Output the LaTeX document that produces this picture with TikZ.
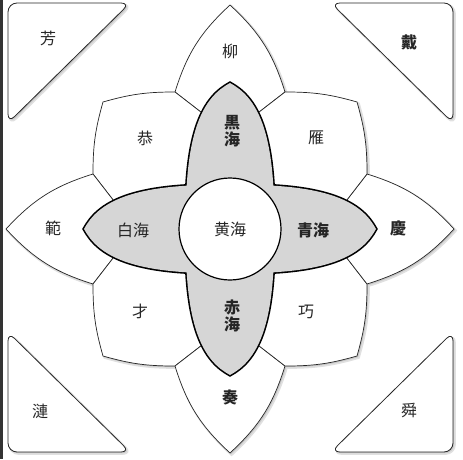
\documentclass[tikz,border=0pt]{standalone}
\usepackage{fontspec}
\newfontfamily\cjk{Noto Sans CJK JP}
\usetikzlibrary{calc}
\newcommand\allpetals[1]{%
  \foreach \r in {0,90,180,270} {
    \begin{scope}[rotate=\r]
      \path[#1] (0,224) to[bend right=15] (-55,137)
        -- ($(-55,137)!1.2!(-29.3,117.1)$) -- ($(55,137)!1.2!(29.3,117.1)$)
        -- (55,137) to[bend right=15] (0,224) -- cycle;
      \path[#1] (-127,127) to[bend left=8] (-55,137)
        -- ($(-55,137)!1.2!(-29.3,117.1)$) -- (-28,28)
        -- ($(-137,55)!1.2!(-117.1,29.3)$) -- (-137,55)
        to[bend left=8] (-127,127) -- cycle;
    \end{scope}
  }}
\newcommand\allcorners[1]{%
  \path[#1] (8,456) -- (130,456) -- (8,336) -- cycle;
  \path[#1] (453,456) -- (331,456) -- (453,336) -- cycle;
  \path[#1] (8,7) -- (8,127) -- (130,7) -- cycle;
  \path[#1] (453,7) -- (453,127) -- (331,7) -- cycle;}
\begin{document}
\begin{tikzpicture}[x=1pt,y=1pt,
  petal/.style={fill=white,draw=black!85,line width=0.7pt},
  corner/.style={fill=white,draw=black!85,line width=0.8pt,rounded corners=9pt},
  shade1/.style={fill=black!12,draw=black!12,line width=2.5pt,rounded corners=9pt,shift={(1.6,-1.6)}},
  shade2/.style={fill=black!22,draw=none,rounded corners=9pt,shift={(1.2,-1.2)}},
  lensline/.style={draw=black,line width=3.2pt},
  lensfill/.style={fill=black!16},
  sea/.style={fill=white,draw=black,line width=1.2pt},
  lbl/.style={font=\cjk\fontsize{16}{17}\selectfont,text=black!85,align=center,inner sep=0pt},
  blbl/.style={lbl,font=\cjk\bfseries\fontsize{16}{17}\selectfont},
]
\def\vlens{(0,146) .. controls (-26,132) and (-46,100) .. (-44,0) .. controls (-46,-100) and (-26,-132) .. (0,-146) .. controls (26,-132) and (46,-100) .. (44,0) .. controls (46,100) and (26,132) .. (0,146) -- cycle}
\useasboundingbox (0,0) rectangle (463,459);
\fill[white] (0,0) rectangle (463,459);
\fill[black!80] (0,0) rectangle (3,459);
% corner kingdoms
\allcorners{shade1}
\allcorners{shade2}
\allcorners{corner}
\begin{scope}[shift={(230,230)}]
  \begin{scope}[shift={(1.6,-1.6)}]\allpetals{fill=black!12,draw=black!12,line width=2.5pt}\end{scope}
  \begin{scope}[shift={(1.2,-1.2)}]\allpetals{fill=black!22}\end{scope}
  \allpetals{petal}
  \path[lensline] \vlens;
  \path[lensline,rotate=90] \vlens;
  \path[lensfill] \vlens;
  \path[lensfill,rotate=90] \vlens;
  \path[sea] (0,0) circle[radius=51];
\end{scope}
% labels
\node[lbl] (fang) at (48,421) {芳};
\node[blbl] (dai) at (409,417) {戴};
\node[lbl] (lian) at (40,48) {漣};
\node[lbl] (shun) at (409,48) {舜};
\node[lbl] (liu) at (230,408) {柳};
\node[blbl] (zou) at (230,62) {奏};
\node[lbl] (fan) at (53,231) {範};
\node[blbl] (qing) at (398,231) {慶};
\node[lbl] (gong) at (145,321) {恭};
\node[lbl] (yan) at (316,321) {雁};
\node[lbl] (cai) at (140,148) {才};
\node[lbl] (qiao) at (306,147) {巧};
\node[lbl] (huang) at (230,230) {黄海};
\node[blbl] (hei) at (232,328) {黒\\海};
\node[lbl] (bai) at (133,229) {白海};
\node[blbl] (qinghai) at (313,229) {青海};
\node[blbl] (chi) at (232,143) {赤\\海};
\end{tikzpicture}
\end{document}
